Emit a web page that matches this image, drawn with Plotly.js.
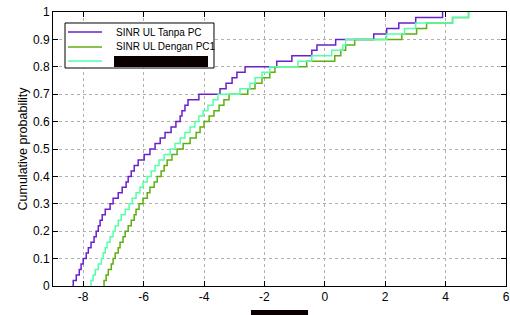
<!DOCTYPE html>
<html>
<head>
<meta charset="utf-8">
<script src="https://cdn.plot.ly/plotly-3.0.1.min.js"></script>
<style>html,body{margin:0;padding:0;background:#fff}#chart{width:510px;height:315px}</style>
</head>
<body>
<div id="chart"></div>
<script>
// Sorted samples (SINR, dB) (50 samples each)
const sinrTanpaPC = [-8.33,-8.23,-8.13,-8.07,-8.00,-7.90,-7.83,-7.74,-7.64,-7.57,
  -7.50,-7.44,-7.37,-7.27,-7.11,-7.01,-6.84,-6.71,-6.58,-6.51,
  -6.41,-6.31,-6.18,-5.98,-5.79,-5.62,-5.45,-5.29,-5.09,-4.93,
  -4.79,-4.73,-4.63,-4.53,-4.17,-3.47,-3.27,-3.07,-2.91,-2.64,
  -1.59,-1.09,-0.43,-0.26,0.36,1.62,2.05,2.45,3.01,3.90];
const sinrDenganPC1 = [-7.31,-7.24,-7.17,-7.07,-7.01,-6.94,-6.84,-6.78,-6.68,-6.61,
  -6.51,-6.41,-6.31,-6.25,-6.15,-6.02,-5.88,-5.79,-5.65,-5.55,
  -5.42,-5.32,-5.22,-5.06,-4.89,-4.69,-4.46,-4.26,-4.13,-4.00,
  -3.83,-3.67,-3.50,-3.34,-3.17,-2.55,-2.31,-2.08,-1.82,-1.65,
  -0.60,0.33,0.53,0.69,0.99,2.55,3.04,3.37,4.23,4.76];
const sinrThird = [-7.74,-7.67,-7.60,-7.50,-7.40,-7.34,-7.27,-7.21,-7.11,-7.01,
  -6.94,-6.84,-6.74,-6.61,-6.48,-6.38,-6.25,-6.12,-6.02,-5.88,
  -5.75,-5.62,-5.49,-5.32,-5.12,-4.96,-4.79,-4.63,-4.46,-4.30,
  -4.17,-4.03,-3.87,-3.70,-3.54,-2.81,-2.48,-2.31,-2.08,-1.82,
  -0.89,-0.43,0.23,0.60,0.69,2.05,2.64,3.01,4.23,4.76];
const seriesNames = ['SINR UL Tanpa PC', 'SINR UL Dengan PC1', ''];
const seriesColors = ['#6a20cc', '#5eae10', '#55ffaa'];
const xTickVals = [-8, -6, -4, -2, 0, 2, 4, 6];
const xTickText = ['-8', '-6', '-4', '-2', '0', '2', '4', '6'];
const yTickVals = [0, 0.1, 0.2, 0.3, 0.4, 0.5, 0.6, 0.7, 0.8, 0.9, 1];
const yTickText = ['0', '0.1', '0.2', '0.3', '0.4', '0.5', '0.6', '0.7', '0.8', '0.9', '1'];

function ecdf(samples) {
  const s = samples.slice().sort((a, b) => a - b);
  const n = s.length;
  const x = [s[0]], y = [0];
  for (let i = 0; i < n; i++) { x.push(s[i]); y.push((i + 1) / n); }
  return {x, y};
}

const allSeries = [sinrTanpaPC, sinrDenganPC1, sinrThird];
const traces = allSeries.map((d, k) => {
  const c = ecdf(d);
  return {x: c.x, y: c.y, type: 'scatter', mode: 'lines', line: {shape: 'hv', color: seriesColors[k], width: 1.5},
          name: seriesNames[k], showlegend: false, hoverinfo: 'skip'};
});

const font = 'Liberation Sans, Arial, sans-serif';
// manual MATLAB-style legend
const legRows = [0.9270, 0.8723, 0.8212];
const shapes = [
  {type: 'rect', xref: 'paper', yref: 'paper', x0: 0.0265, x1: 0.3554, y0: 0.7956, y1: 0.9599,
   fillcolor: '#ffffff', line: {color: '#000000', width: 1}, layer: 'above'}
];
legRows.forEach((yy, k) => shapes.push({type: 'line', xref: 'paper', yref: 'paper', x0: 0.0331, x1: 0.1082, y0: yy, y1: yy,
  line: {color: seriesColors[k], width: 1.5}, layer: 'above'}));
// redacted entries in the reference
shapes.push({type: 'rect', xref: 'paper', yref: 'paper', x0: 0.1347, x1: 0.3422, y0: 0.7993, y1: 0.8394,
  fillcolor: '#0a0000', line: {width: 0}, layer: 'above'});
shapes.push({type: 'rect', xref: 'paper', yref: 'paper', x0: 0.437, x1: 0.563, y0: -0.1095, y1: -0.0876,
  fillcolor: '#0a0000', line: {width: 0}, layer: 'above'});

const annotations = [0, 1].map(k => ({xref: 'paper', yref: 'paper', x: 0.1347, y: legRows[k], xanchor: 'left', yanchor: 'middle',
  text: seriesNames[k], showarrow: false, font: {family: font, size: 10, color: '#000'}}));

const axisCommon = {ticks: 'inside', ticklen: 5, tickcolor: '#000', showline: true, linecolor: '#000', linewidth: 1,
  mirror: 'ticks', showgrid: true, gridcolor: '#b0b0b0', griddash: 'dot', gridwidth: 1, zeroline: false,
  tickfont: {family: font, size: 12, color: '#000'}, automargin: false};

const layout = {
  width: 510, height: 315,
  margin: {l: 53, r: 4, t: 12, b: 29},
  paper_bgcolor: '#ffffff', plot_bgcolor: '#ffffff',
  showlegend: false,
  xaxis: Object.assign({}, axisCommon, {range: [-9, 6], autorange: false, tickmode: 'array', tickvals: xTickVals, ticktext: xTickText}),
  yaxis: Object.assign({}, axisCommon, {range: [0, 1], autorange: false, tickmode: 'array', tickvals: yTickVals, ticktext: yTickText,
    title: {text: 'Cumulative probability', font: {family: font, size: 12.5, color: '#000'}, standoff: 2}}),
  shapes: shapes,
  annotations: annotations
};

Plotly.newPlot('chart', traces, layout, {staticPlot: true, displayModeBar: false});
</script>
</body>
</html>
